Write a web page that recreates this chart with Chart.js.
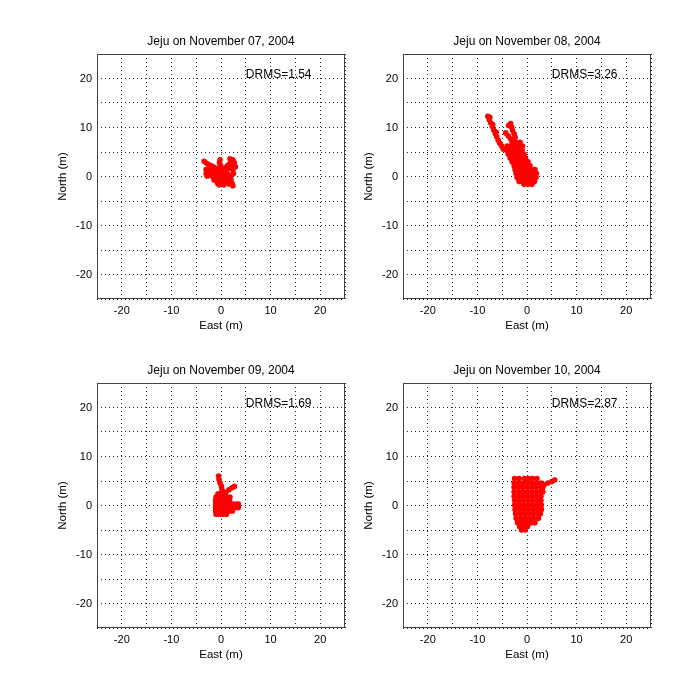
<!DOCTYPE html>
<html>
<head>
<meta charset="utf-8">
<script src="https://cdn.jsdelivr.net/npm/chart.js@4.4.1/dist/chart.umd.min.js"></script>
<style>
  body { margin: 0; background: #fff; }
  #wrap { position: relative; width: 681px; height: 678px; }
  canvas { position: absolute; }
</style>
</head>
<body>
<div id="wrap">
  <canvas id="c07" width="368" height="320" style="left:37px;top:24px"></canvas>
  <canvas id="c08" width="368" height="320" style="left:343px;top:24px"></canvas>
  <canvas id="c09" width="368" height="320" style="left:37px;top:353px"></canvas>
  <canvas id="c10" width="368" height="320" style="left:343px;top:353px"></canvas>
</div>
<script>
// positions (East, North) in metres
const nov07 = [
  [-3.4,3.1],[-2.9,2.7],[-2.4,2.4],[-1.9,2.2],[-1.4,1.9],
  [-3.0,1.4],[-2.5,1.6],[-2.0,1.3],[-3.0,0.6],[-2.4,0.8],[-1.8,0.7],[-2.8,0.1],[-2.2,0.2],[-1.6,0.0],
  [-1.0,1.3],[-0.5,1.7],[0.0,1.2],[0.5,1.6],[1.0,1.2],[-1.0,0.5],[-0.4,0.6],[0.2,0.5],[0.8,0.6],[1.4,0.5],
  [-1.1,-0.2],[-0.5,-0.1],[0.1,-0.2],[0.7,0.0],[1.3,-0.2],[1.9,0.0],
  [-0.2,3.4],[-0.3,2.8],[-0.1,2.3],
  [1.8,3.6],[2.4,3.4],[2.0,3.0],[2.7,2.8],[1.6,2.5],[2.2,2.2],[2.9,2.0],[1.2,2.1],[1.8,1.7],[2.4,1.4],
  [-0.8,-0.8],[-0.7,-1.4],[-0.1,-0.8],[0.3,-1.3],[0.8,-0.7],[1.4,-0.9],[2.0,-0.6],[2.2,-1.4],[2.4,-1.9],
  [1.6,-1.5],[-0.4,-1.7],[0.6,-1.7],[-1.4,-0.7],[2.5,0.6]
];
const nov08 = [
  [-7.9,12.3],[-7.6,11.6],[-7.3,10.9],[-7.0,10.2],[-6.7,9.5],[-6.4,8.8],[-6.1,8.1],[-5.8,7.4],[-5.5,6.8],[-5.1,6.2],[-4.8,5.6],
  [-7.5,12.1],[-6.9,10.6],[-6.2,9.0],
  [-3.3,10.8],[-3.1,10.1],[-2.9,9.4],[-2.6,8.7],[-2.4,8.0],[-3.7,10.4],
  [-4.3,8.9],[-3.8,8.3],[-3.3,7.7],[-2.8,7.1],[-2.3,6.5],[-1.8,5.9],
  [-3.0,7.0],[-2.2,7.0],[-1.4,7.0],
  [-4.0,6.2],[-3.2,6.2],[-2.4,6.2],[-1.6,6.2],[-0.9,6.2],
  [-4.2,5.4],[-3.4,5.4],[-2.6,5.4],[-1.8,5.4],[-1.0,5.4],
  [-3.8,4.6],[-3.0,4.6],[-2.2,4.6],[-1.4,4.6],[-0.6,4.6],
  [-3.4,3.8],[-2.6,3.8],[-1.8,3.8],[-1.0,3.8],[-0.3,3.8],
  [-3.0,3.0],[-2.2,3.0],[-1.4,3.0],[-0.6,3.0],[0.2,3.0],
  [-2.6,2.2],[-1.8,2.2],[-1.0,2.2],[-0.2,2.2],[0.6,2.2],
  [-2.4,1.4],[-1.6,1.4],[-0.8,1.4],[0.0,1.4],[0.8,1.4],[1.6,1.4],
  [-2.2,0.6],[-1.4,0.6],[-0.6,0.6],[0.2,0.6],[1.0,0.6],[1.9,0.6],
  [-2.0,-0.2],[-1.2,-0.2],[-0.4,-0.2],[0.4,-0.2],[1.1,-0.2],[1.8,-0.2],
  [-1.6,-1.0],[-0.8,-1.0],[0.0,-1.0],[0.8,-1.0],[1.5,-1.0],
  [-0.6,-1.6],[0.2,-1.6],[1.0,-1.6]
];
const nov09 = [
  [-0.5,6.0],[-0.4,5.3],[-0.2,4.6],[0.1,3.9],[0.2,3.2],
  [1.0,2.7],[1.6,3.2],[2.2,3.6],[2.7,3.9],
  [-0.6,2.4],[0.1,2.4],[0.8,2.4],
  [-1.0,1.7],[-0.3,1.7],[0.4,1.7],[1.1,1.7],[1.8,1.7],
  [-1.1,1.0],[-0.4,1.0],[0.3,1.0],[1.0,1.0],[1.7,1.0],
  [-1.1,0.3],[-0.4,0.3],[0.3,0.3],[1.0,0.3],[1.7,0.3],[2.4,0.3],[3.1,0.3],[3.5,0.3],
  [-1.1,-0.4],[-0.4,-0.4],[0.3,-0.4],[1.0,-0.4],[1.7,-0.4],[2.4,-0.4],[3.1,-0.4],[3.5,-0.4],
  [-1.1,-1.1],[-0.4,-1.1],[0.3,-1.1],[1.0,-1.1],[1.7,-1.1],[2.3,-1.1],
  [-1.0,-1.8],[-0.3,-1.8],[0.4,-1.8],[1.1,-1.8]
];
const nov10 = [
  [-2.5,5.5],[-1.6,5.5],[-0.5,5.5],[0.3,5.5],[1.1,5.5],[2.0,5.5],
  [-2.6,4.6],[-1.7,4.6],[-0.8,4.6],[0.1,4.6],[1.0,4.6],[1.9,4.6],[2.8,4.6],
  [-2.6,3.7],[-1.7,3.7],[-0.8,3.7],[0.1,3.7],[1.0,3.7],[1.9,3.7],[2.8,3.7],[3.2,3.7],
  [-2.6,2.8],[-1.7,2.8],[-0.8,2.8],[0.1,2.8],[1.0,2.8],[1.9,2.8],[2.8,2.8],[3.2,2.8],
  [-2.6,1.9],[-1.7,1.9],[-0.8,1.9],[0.1,1.9],[1.0,1.9],[1.9,1.9],[2.8,1.9],
  [-2.5,1.0],[-1.6,1.0],[-0.7,1.0],[0.2,1.0],[1.1,1.0],[2.0,1.0],[2.8,1.0],
  [-2.5,0.1],[-1.6,0.1],[-0.7,0.1],[0.2,0.1],[1.1,0.1],[2.0,0.1],[2.9,0.1],
  [-2.4,-0.8],[-1.5,-0.8],[-0.6,-0.8],[0.3,-0.8],[1.2,-0.8],[2.1,-0.8],[2.9,-0.8],
  [-2.3,-1.7],[-1.4,-1.7],[-0.5,-1.7],[0.4,-1.7],[1.3,-1.7],[2.2,-1.7],[2.7,-1.7],
  [-2.2,-2.6],[-1.3,-2.6],[-0.4,-2.6],[0.5,-2.6],[1.4,-2.6],[2.3,-2.6],
  [-1.9,-3.5],[-1.0,-3.5],[-0.1,-3.5],[0.8,-3.5],[1.6,-3.5],
  [-1.5,-4.3],[-0.7,-4.3],[0.1,-4.3],
  [-1.1,-5.0],[-0.4,-5.0],
  [3.4,4.2],[4.2,4.6],[5.0,4.9],[5.6,5.2]
];
const titles = ['Jeju on November 07, 2004', 'Jeju on November 08, 2004',
                'Jeju on November 09, 2004', 'Jeju on November 10, 2004'];
const drms = ['1.54', '3.26', '1.69', '2.87'];

const FONT = '"Liberation Sans", Arial, Helvetica, sans-serif';

// box round the axes, title on top, DRMS note inside
const framePlugin = {
  id: 'frame',
  afterDraw(chart) {
    const {ctx, chartArea: a, scales} = chart;
    const o = chart.options.plugins.frame;
    ctx.save();
    ctx.strokeStyle = '#444';
    ctx.lineWidth = 1;
    ctx.strokeRect(a.left + 0.5, a.top + 0.5, a.width - 1, a.height - 1);
    ctx.fillStyle = '#000';
    ctx.font = '12px ' + FONT;
    ctx.textBaseline = 'middle';
    ctx.textAlign = 'center';
    ctx.fillText(o.title, (a.left + a.right) / 2, a.top - 12);
    ctx.textAlign = 'left';
    ctx.fillText(o.note, scales.x.getPixelForValue(5), scales.y.getPixelForValue(20.7));
    ctx.restore();
  }
};

function axis(label, horizontal) {
  return {
    type: 'linear',
    min: -25, max: 25,
    afterFit: s => { if (horizontal) s.height = 45; else s.width = 60; },
    ticks: {
      stepSize: 5,
      autoSkip: false,
      maxRotation: 0,
      padding: 5,
      color: '#000',
      font: {family: FONT, size: 11},
      callback: v => (v % 10 === 0 && Math.abs(v) < 25) ? String(v) : ''
    },
    grid: {
      color: 'rgba(0,0,0,0.85)',
      lineWidth: 1,
      drawTicks: false
    },
    border: {display: false, dash: [1, 3]},
    title: {
      display: true,
      text: label,
      color: '#000',
      font: {family: FONT, size: 11.5},
      padding: horizontal ? {top: 0, bottom: 11} : {top: 19, bottom: 0}
    }
  };
}

function makeChart(id, pts, title, note) {
  return new Chart(document.getElementById(id), {
    type: 'scatter',
    data: {
      datasets: [{
        data: pts.map(p => ({x: p[0], y: p[1]})),
        backgroundColor: '#ff0000',
        borderWidth: 0,
        pointRadius: 2.8
      }]
    },
    options: {
      responsive: false,
      animation: false,
      events: [],
      layout: {padding: {top: 30, right: 60, left: 0, bottom: 0}},
      scales: {x: axis('East (m)', true), y: axis('North (m)', false)},
      plugins: {
        legend: {display: false},
        tooltip: {enabled: false},
        frame: {title: title, note: note}
      }
    },
    plugins: [framePlugin]
  });
}

makeChart('c07', nov07, titles[0], 'DRMS=' + drms[0]);
makeChart('c08', nov08, titles[1], 'DRMS=' + drms[1]);
makeChart('c09', nov09, titles[2], 'DRMS=' + drms[2]);
makeChart('c10', nov10, titles[3], 'DRMS=' + drms[3]);
</script>
</body>
</html>
